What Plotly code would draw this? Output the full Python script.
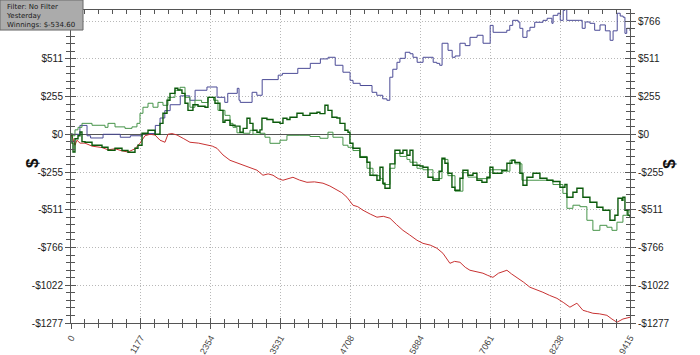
import plotly.graph_objects as go

# ---------------- data (hands played, cumulative $) ----------------
blue_x = [0, 150, 270, 330, 540, 830, 1000, 1200, 1420, 1500, 1580, 1670, 1840, 2000, 2090, 2290,
          2460, 2590, 2640, 2800, 2830, 2850, 3050, 3130, 3220, 3490, 3560, 3820, 4030, 4200, 4330,
          4450, 4580, 4700, 4750, 4870, 5070, 5150, 5250, 5320, 5370, 5420, 5490, 5540, 5630, 5710,
          5760, 5830, 5930, 6100, 6160, 6210, 6250, 6350, 6420, 6470, 6550, 6640, 6720, 6840, 6940,
          7060, 7110, 7340, 7390, 7440, 7530, 7560, 7610, 7680, 7730, 7810, 7950, 8020, 8100, 8120,
          8200, 8240, 8290, 8320, 8350, 8570, 8610, 8660, 8740, 8820, 8910, 9000, 9080, 9130, 9200,
          9250, 9300, 9330, 9360, 9415]
blue_y = [0, 60, -10, -25, 0, -20, -10, 5, 60, 110, 160, 200, 260, 230, 298, 320,
          250, 216, 277, 311, 230, 216, 284, 264, 370, 400, 412, 446, 480, 510, 521,
          467, 420, 365, 345, 330, 284, 264, 240, 230, 386, 440, 487, 514, 555, 545,
          521, 487, 521, 487, 480, 467, 616, 568, 521, 530, 616, 600, 656, 670, 616,
          737, 690, 704, 737, 771, 760, 717, 656, 700, 724, 758, 771, 785, 751, 805,
          819, 771, 839, 870, 771, 771, 717, 760, 751, 704, 740, 700, 636, 700, 819,
          800, 792, 683, 717, 700]

dark_x = [0, 17, 34, 67, 118, 152, 185, 236, 354, 522, 623, 741, 859, 960, 1078, 1128, 1196, 1297,
          1415, 1499, 1549, 1617, 1667, 1751, 1800, 1869, 1920, 1970, 2054, 2139, 2257, 2307, 2425,
          2509, 2560, 2593, 2678, 2762, 2846, 2900, 2964, 3014, 3065, 3132, 3183, 3216, 3300, 3402,
          3520, 3570, 3637, 3688, 3806, 3907, 4025, 4143, 4193, 4277, 4328, 4395, 4479, 4530, 4614,
          4665, 4698, 4749, 4867, 4985, 5035, 5153, 5204, 5254, 5288, 5372, 5456, 5540, 5591, 5658,
          5709, 5759, 5877, 5928, 6012, 6096, 6200, 6248, 6298, 6349, 6416, 6467, 6551, 6601, 6685,
          6770, 6837, 6921, 7005, 7056, 7106, 7200, 7258, 7342, 7426, 7477, 7561, 7612, 7679, 7780,
          7898, 8016, 8117, 8235, 8319, 8353, 8454, 8521, 8622, 8740, 8857, 8959, 9077, 9161, 9212,
          9279, 9296, 9330, 9380, 9415]
dark_y = [0, -60, -120, -30, -10, 15, -50, -54, -74, -88, -108, -95, -110, -122, -95, -74, 7, 27,
          0, 74, 142, 230, 277, 311, 300, 277, 210, 162, 200, 190, 183, 250, 210,
          162, 81, 95, 61, 55, 14, 40, 108, 74, 27, 14, 30, 108, 100, 81,
          74, 108, 100, 115, 142, 128, 142, 149, 140, 196, 162, 115, 110, 74, 27,
          14, -61, -95, -155, -189, -277, -311, -223, -331, -365, -200, -108, -128, -108, -142,
          -108, -210, -215, -223, -291, -311, -250, -162, -196, -264, -358, -379, -298, -243, -277,
          -264, -311, -325, -291, -223, -264, -264, -243, -196, -176, -190, -264, -345, -291, -264,
          -298, -311, -320, -358, -340, -426, -392, -365, -426, -460, -494, -514, -582, -548, -433,
          -447, -426, -514, -548, -560]

light_x = [0, 17, 67, 118, 185, 354, 573, 623, 741, 909, 1027, 1111, 1162, 1212, 1297, 1381, 1465,
           1549, 1633, 1751, 1836, 1920, 2004, 2088, 2200, 2307, 2400, 2475, 2593, 2678, 2728, 2795,
           2900, 3014, 3065, 3183, 3267, 3351, 3520, 3637, 3856, 4025, 4193, 4328, 4412, 4580, 4665,
           4749, 4867, 4985, 5086, 5204, 5254, 5372, 5456, 5540, 5658, 5709, 5827, 5928, 6096, 6248,
           6349, 6467, 6601, 6685, 6837, 7056, 7258, 7393, 7477, 7595, 7730, 7898, 8117, 8285, 8353,
           8454, 8572, 8689, 8790, 8908, 9026, 9111, 9195, 9296, 9363, 9415]
light_y = [0, -10, 30, 47, 74, 61, 47, 74, 50, 40, 50, 74, 142, 183, 210, 183, 216,
           196, 250, 298, 318, 250, 183, 230, 215, 250, 230, 162, 128, 74, 47, 10,
           7, 27, 0, 7, -20, -61, -40, -7, -7, -15, -27, 14, -20, -74, -88,
           -110, -150, -230, -280, -300, -340, -230, -130, -150, -170, -189, -230, -240, -300, -170,
           -280, -385, -260, -290, -300, -240, -250, -176, -200, -311, -311, -311, -340, -400, -501,
           -480, -490, -582, -650, -616, -629, -650, -595, -548, -514, -535]

red_x = [0, 34, 67, 100, 152, 236, 354, 522, 623, 741, 859, 960, 1078, 1162, 1246, 1330, 1415, 1499,
         1583, 1633, 1700, 1785, 1900, 2004, 2150, 2290, 2380, 2459, 2560, 2678, 2780, 2896, 3010,
         3132, 3233, 3320, 3402, 3490, 3570, 3650, 3738, 3850, 3974, 4100, 4244, 4360, 4479, 4560,
         4648, 4749, 4830, 4918, 5040, 5153, 5260, 5372, 5480, 5591, 5700, 5827, 5928, 6050, 6163,
         6264, 6382, 6460, 6551, 6640, 6719, 6830, 6938, 7020, 7106, 7200, 7342, 7420, 7511, 7620,
         7730, 7840, 7948, 8060, 8184, 8300, 8403, 8521, 8622, 8700, 8790, 8900, 9026, 9110, 9195,
         9296, 9415]
red_y = [0, -30, -74, -40, -60, -60, -80, -90, -105, -98, -112, -120, -98, -60, -10, 0, -5, -40,
         -54, 0, 5, -5, -30, -54, -60, -74, -80, -95, -140, -176, -190, -210, -225,
         -243, -277, -268, -277, -300, -311, -300, -291, -310, -325, -322, -331, -350, -379, -395,
         -426, -480, -490, -514, -540, -561, -555, -568, -610, -650, -680, -717, -738, -750, -771,
         -805, -873, -860, -866, -900, -920, -930, -940, -955, -968, -940, -920, -945, -968, -1000,
         -1035, -1050, -1069, -1090, -1110, -1140, -1170, -1143, -1191, -1200, -1211, -1215, -1225, -1250, -1272,
         -1250, -1238]

x_tickvals = [0, 1177, 2354, 3531, 4708, 5884, 7061, 8238, 9415]
x_ticktext = ["0", "1177", "2354", "3531", "4708", "5884", "7061", "8238", "9415"]
y_tickvals = [-1277, -1021.6, -766.2, -510.8, -255.4, 0, 255.4, 510.8, 766.2]
y_ticktext = ["-$1277", "-$1022", "-$766", "-$511", "-$255", "$0", "$255", "$511", "$766"]
info_lines = ["Filter: No Filter", "Yesterday", "Winnings: $-534.60"]

X_RANGE = [0, 9415]
Y_RANGE = [-1277, 841]
AX = "#555555"
GRID = dict(showgrid=True, gridcolor="#b8b8b8", griddash="1px,2px", gridwidth=1)

fig = go.Figure()
fig.add_trace(go.Scatter(x=red_x, y=red_y, mode="lines", line=dict(color="#c83232", width=1)))
fig.add_trace(go.Scatter(x=blue_x, y=blue_y, mode="lines", line=dict(color="#4b4b96", width=1, shape="hv")))
fig.add_trace(go.Scatter(x=light_x, y=light_y, mode="lines", line=dict(color="#47944a", width=1, shape="hv")))
fig.add_trace(go.Scatter(x=dark_x, y=dark_y, mode="lines", line=dict(color="#0b5a0b", width=1.4, shape="hv")))
# empty traces binding the extra decorative axes
fig.add_trace(go.Scatter(x=[], y=[], xaxis="x", yaxis="y2"))
fig.add_trace(go.Scatter(x=[], y=[], xaxis="x2", yaxis="y3"))
fig.add_trace(go.Scatter(x=[], y=[], xaxis="x3", yaxis="y4"))

tickfont = dict(family="Liberation Sans, Arial, sans-serif", size=10, color="#222222")
xfont = dict(family="Liberation Sans, Arial, sans-serif", size=9, color="#444444")
left_text = [t if v < 700 else "" for v, t in zip(y_tickvals, y_ticktext)]  # hidden under the info box

common_x = dict(range=X_RANGE, tickmode="array", tickvals=x_tickvals, showline=True, automargin=False,
                linecolor=AX, linewidth=1, tickcolor=AX, ticklen=5, zeroline=False)
common_y = dict(range=Y_RANGE, tickmode="array", tickvals=y_tickvals, showline=True, automargin=False,
                linecolor=AX, linewidth=1, tickcolor=AX, ticklen=5)
minor_x = dict(tickmode="linear", tick0=0, dtick=235.375, ticklen=4, tickcolor=AX, showgrid=False)
minor_y = dict(tickmode="linear", tick0=0, dtick=51.08, ticklen=4, tickcolor=AX, showgrid=False)

fig.update_layout(
    width=700, height=355,
    margin=dict(l=71, r=70, t=10, b=32, autoexpand=False),
    paper_bgcolor="white", plot_bgcolor="white",
    showlegend=False,
    xaxis=dict(**common_x, **GRID, side="bottom", ticks="outside", ticktext=x_ticktext, tickangle=-60,
               tickfont=xfont, minor=dict(**minor_x, ticks="outside")),
    yaxis=dict(**common_y, **GRID, side="left", ticks="outside", ticktext=left_text, tickfont=tickfont,
               zeroline=True, zerolinecolor="#555555", zerolinewidth=1,
               minor=dict(**minor_y, ticks="outside")),
    yaxis2=dict(**common_y, side="right", overlaying="y", ticks="outside", ticktext=y_ticktext,
                tickfont=tickfont, showgrid=False, zeroline=False,
                minor=dict(**minor_y, ticks="outside")),
    xaxis2=dict(**common_x, side="bottom", overlaying="x", ticks="inside", showticklabels=False,
                showgrid=False, minor=dict(**minor_x, ticks="inside")),
    yaxis3=dict(**common_y, side="left", overlaying="y", ticks="inside", showticklabels=False,
                showgrid=False, zeroline=False, minor=dict(**minor_y, ticks="inside")),
    xaxis3=dict(**common_x, side="top", overlaying="x", ticks="inside", showticklabels=False,
                showgrid=False, minor=dict(**minor_x, ticks="inside")),
    yaxis4=dict(**common_y, side="right", overlaying="y", ticks="inside", showticklabels=False,
                showgrid=False, zeroline=False, minor=dict(**minor_y, ticks="inside")),
)

# "$" axis titles
for xp in (-0.0894, 1.0912):
    fig.add_annotation(x=xp, y=0.51, xref="paper", yref="paper", text="<b>$</b>", showarrow=False,
                       textangle=-90, font=dict(family="Liberation Sans, Arial, sans-serif", size=17, color="#111111"))

# info box top-left
fig.add_shape(type="rect", xref="paper", yref="paper", x0=-0.127, x1=0.0215, y0=0.936, y1=1.032,
              fillcolor="#ababab", line=dict(color="#6a6a6a", width=1), layer="above")
fig.add_annotation(x=-0.120, y=1.030, xref="paper", yref="paper", xanchor="left", yanchor="top",
                   text="<br>".join(info_lines), showarrow=False, align="left",
                   font=dict(family="DejaVu Sans, Verdana, sans-serif", size=7, color="#1a1a1a"))

fig.write_html("out.html")
